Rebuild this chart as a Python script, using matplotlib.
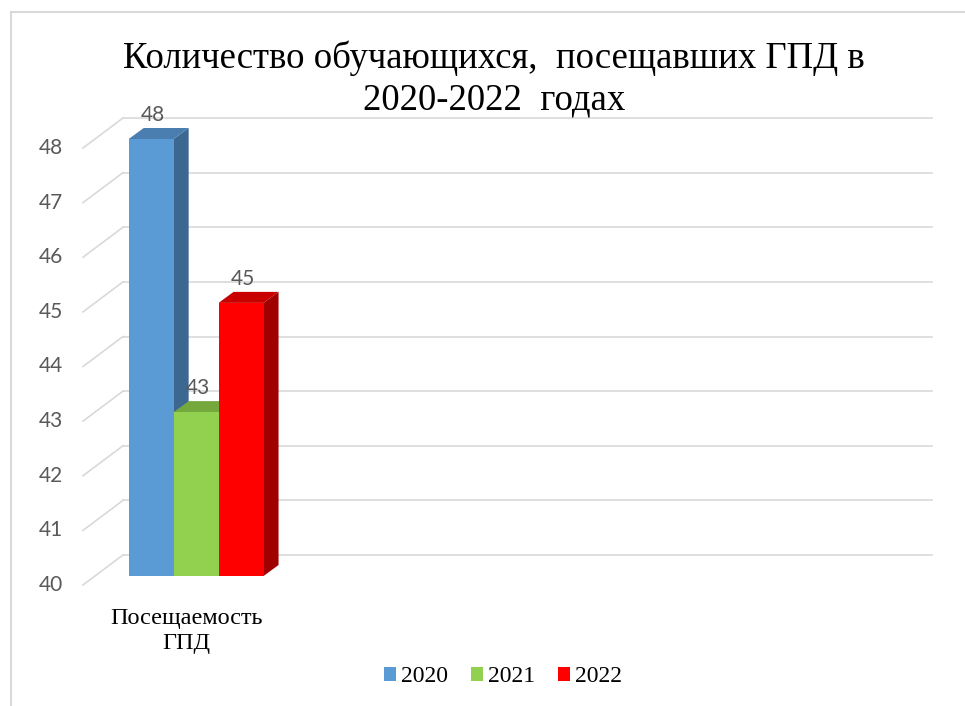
import numpy as np
import matplotlib
matplotlib.use('Agg')
from matplotlib import pyplot as plt
from matplotlib.patches import Polygon, Patch, Rectangle
from matplotlib.transforms import ScaledTranslation

TITLE = ['Количество обучающихся,  посещавших ГПД в', '2020-2022  годах']
CATEGORIES = ['Посещаемость\nГПД']
YEARS = ['2020', '2021', '2022']
VALUES = [48, 43, 45]
N_SLOTS = 4          # chart had empty category slots to the right
YTICKS = np.arange(40, 49)

FRONT = ['#5b9bd5', '#92d050', '#ff0000']
TOP = ['#4a7db0', '#74a83d', '#c80000']
SIDE = ['#3c6791', '#5f8a32', '#a00000']
GRID = '#d9d9d9'
LABEL = '#595959'
SERIF = 'Liberation Serif'
SANS = 'Lato'

W, H, DPI = 965, 706, 100
fig = plt.figure(figsize=(W / DPI, H / DPI), dpi=DPI)
ax_l, ax_r, ax_b, ax_t = 95, 904, 576, 139   # front plane in pixels
ax = fig.add_axes([ax_l / W, (H - ax_b) / H, (ax_r - ax_l) / W, (ax_b - ax_t) / H])
ax.set_xlim(-0.5, N_SLOTS - 0.5)
ax.set_ylim(YTICKS[0], YTICKS[-1])
ax.axis('off')

pxx = (ax_r - ax_l) / N_SLOTS
pxy = (ax_b - ax_t) / (YTICKS[-1] - YTICKS[0])

def off(dx, dy):
    return ax.transData + ScaledTranslation(dx / DPI, dy / DPI, fig.dpi_scale_trans)

# depth offsets in pixels (x right, y up)
back_dx, back_dy = 28 / pxx, 21 / pxy
front_dx, front_dy = -12 / pxx, -9 / pxy
bar_dx, bar_dy = 15 / pxx, 11 / pxy

x0, x1 = ax.get_xlim()
for v in YTICKS:
    ax.plot([x0 + back_dx, x1 + back_dx], [v + back_dy, v + back_dy],
            color=GRID, lw=1.2, clip_on=False, zorder=1)
    ax.plot([x0 + front_dx, x0 + back_dx], [v + front_dy, v + back_dy],
            color=GRID, lw=1.2, clip_on=False, zorder=1)
    ax.text(x0, v, str(v), ha='right', va='center', color=LABEL,
            fontsize=15, family=SANS, transform=off(-32, -9))

# 3d-looking bars, 50% gap width
group = 1 / 1.5
bw = group / len(VALUES)
base = YTICKS[0]
for i, (v, c) in enumerate(zip(VALUES, FRONT)):
    left = -group / 2 + i * bw
    right = left + bw
    z = 3 + i
    side = Polygon([(right, base), (right, v), (right + bar_dx, v + bar_dy),
                    (right + bar_dx, base + bar_dy)], closed=True,
                   fc=SIDE[i], ec='none', clip_on=False, zorder=z)
    top = Polygon([(left, v), (right, v), (right + bar_dx, v + bar_dy),
                   (left + bar_dx, v + bar_dy)], closed=True,
                  fc=TOP[i], ec='none', clip_on=False, zorder=z)
    ax.add_patch(side)
    ax.add_patch(top)
    ax.bar(left, v - base, bottom=base, width=bw, align='edge', color=c,
           zorder=z, clip_on=False)
    ax.text(left + bw / 2, v, str(v), ha='center', va='center', color=LABEL,
            fontsize=15, family=SANS, transform=off(2, 24), zorder=10)

ax.text(0, base, CATEGORIES[0], ha='center', va='center', fontsize=17.5,
        family=SERIF, linespacing=1.2, transform=off(-10, -55))

# title as two separate lines, each centred
for line, y in zip(TITLE, [58, 100]):
    fig.text(494 / W, (H - y) / H, line, ha='center', va='center',
             fontsize=26.5, family=SERIF)

handles = [Patch(fc=c, ec='none', label=y) for c, y in zip(FRONT, YEARS)]
fig.legend(handles=handles, loc='center', bbox_to_anchor=(503 / W, (H - 677) / H),
           ncol=3, frameon=False, prop={'family': SERIF, 'size': 17},
           handlelength=0.5, handleheight=0.5, handletextpad=0.2,
           columnspacing=1.0)

fig.patches.append(Rectangle((11 / W, -0.05), 1.2, (H - 12) / H + 0.05,
                             transform=fig.transFigure, fill=False,
                             ec=GRID, lw=1.5))

fig.savefig('out.png', dpi=DPI)
